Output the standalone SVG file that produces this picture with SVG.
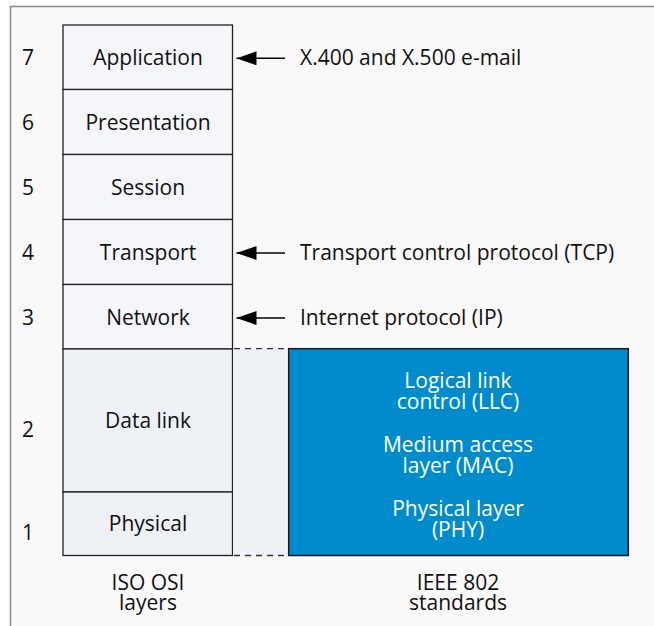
<svg xmlns="http://www.w3.org/2000/svg" width="654" height="626" viewBox="0 0 654 626">
<defs>
<style>
text{font-family:"Open Sans","Noto Sans",sans-serif;font-size:21px;fill:#111;}
.c{text-anchor:middle;}
.w{fill:#fff;}
.box{fill:#f5f6fa;stroke:#222;stroke-width:1.3;}
.low{fill:#eef1f6;stroke:#222;stroke-width:1.3;}
.arr{stroke:#000;stroke-width:1.5;fill:none;marker-end:url(#ah);}
.dash{stroke:#333;stroke-width:1.3;stroke-dasharray:6,5;fill:none;}
</style>
<marker id="ah" viewBox="0 0 20 14" refX="20" refY="7" markerWidth="20" markerHeight="14" markerUnits="userSpaceOnUse" orient="auto">
<path d="M0,0 L20,7 L0,14 Z" fill="#000"/>
</marker>
</defs>
<rect x="0" y="0" width="654" height="626" fill="#ffffff"/>
<rect x="10.5" y="6.5" width="660" height="640" fill="#f9f9f9" stroke="#8a8a8a" stroke-width="1.5"/>

<g id="stack">
<g id="app"><rect class="box" x="63" y="25" width="169.5" height="64.5"/><text class="c" x="148" y="65">Application</text></g>
<g id="pres"><rect class="box" x="63" y="89.5" width="169.5" height="65"/><text class="c" x="148" y="130">Presentation</text></g>
<g id="sess"><rect class="box" x="63" y="154.5" width="169.5" height="65"/><text class="c" x="148" y="194.5">Session</text></g>
<g id="trans"><rect class="box" x="63" y="219.5" width="169.5" height="65"/><text class="c" x="148" y="260">Transport</text></g>
<g id="net"><rect class="box" x="63" y="284.5" width="169.5" height="64.5"/><text class="c" x="148" y="325">Network</text></g>
<g id="dl"><rect class="low" x="63" y="349" width="169.5" height="143"/><text class="c" x="148" y="428">Data link</text></g>
<g id="phy"><rect class="low" x="63" y="492" width="169.5" height="63.5"/><text class="c" x="148" y="531">Physical</text></g>
</g>

<g id="nums">
<text class="c" x="28" y="65">7</text>
<text class="c" x="28" y="130">6</text>
<text class="c" x="28" y="194.5">5</text>
<text class="c" x="28" y="260">4</text>
<text class="c" x="28" y="325">3</text>
<text class="c" x="28" y="437">2</text>
<text class="c" x="28" y="540">1</text>
</g>

<g id="gap">
<rect x="233" y="349" width="55.5" height="206.5" fill="#eef1f6"/>
</g>

<g id="ieee">
<rect x="288.7" y="348.7" width="339.6" height="206.8" fill="#008ccc" stroke="#1a1a1a" stroke-width="1.5"/>
<text class="c w" x="458" y="388">Logical link</text>
<text class="c w" x="458" y="409">control (LLC)</text>
<text class="c w" x="458" y="452">Medium access</text>
<text class="c w" x="458" y="472.5">layer (MAC)</text>
<text class="c w" x="458" y="516">Physical layer</text>
<text class="c w" x="458" y="536.5">(PHY)</text>
</g>

<g id="connectors">
<line class="arr" x1="285" y1="58.3" x2="236.5" y2="58.3"/>
<line class="arr" x1="285" y1="253" x2="236.5" y2="253"/>
<line class="arr" x1="285" y1="318" x2="236.5" y2="318"/>
<line class="dash" x1="234" y1="348.7" x2="288" y2="348.7"/>
<line class="dash" x1="234" y1="555.5" x2="288" y2="555.5"/>
</g>

<g id="labels">
<text x="300" y="65">X.400 and X.500 e-mail</text>
<text x="300" y="260">Transport control protocol (TCP)</text>
<text x="300" y="325">Internet protocol (IP)</text>
<text class="c" x="148" y="590">ISO OSI</text>
<text class="c" x="148" y="610">layers</text>
<text class="c" x="458" y="590">IEEE 802</text>
<text class="c" x="458" y="610">standards</text>
</g>
</svg>
